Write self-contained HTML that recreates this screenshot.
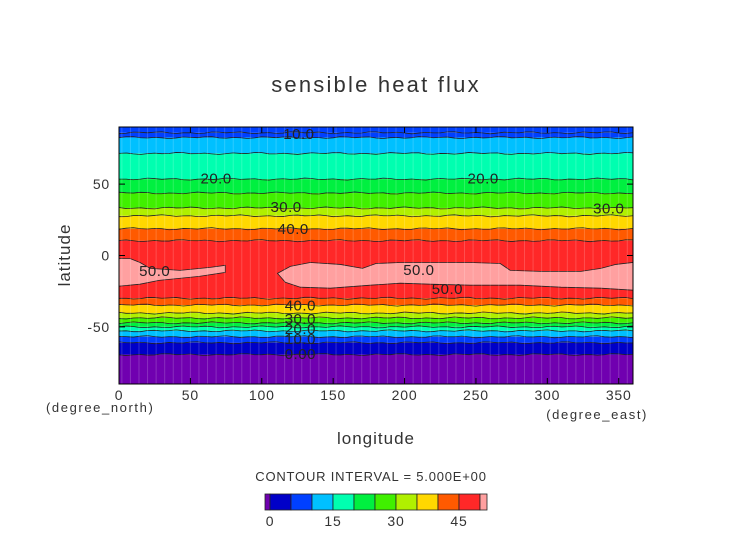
<!DOCTYPE html>
<html><head><meta charset="utf-8"><style>
body{margin:0;background:#fff}
svg text{font-family:"Liberation Sans",sans-serif;fill:#333}
</style></head><body>
<svg width="752" height="532" viewBox="0 0 752 532" xmlns="http://www.w3.org/2000/svg">
<text x="376" y="92" font-size="22" text-anchor="middle" letter-spacing="2.2">sensible heat flux</text>
<g id="plot"></g>
<g id="axes"></g>
<text x="70" y="255" font-size="17" text-anchor="middle" letter-spacing="1" transform="rotate(-90 70 255)">latitude</text>
<text x="376" y="444" font-size="17" text-anchor="middle" letter-spacing="1">longitude</text>
<text x="46" y="412" font-size="13" letter-spacing="1.6">(degree_north)</text>
<text x="648" y="419" font-size="13" text-anchor="end" letter-spacing="1.6">(degree_east)</text>
<text x="371" y="481" font-size="13" text-anchor="middle" letter-spacing="0.8">CONTOUR INTERVAL = 5.000E+00</text>
<g id="cbar"></g>
</svg>
<script>
// band boundaries (latitude, north to south) and the level band colour index below each boundary
const bandLats=[90,86,82.6,71.5,53.5,43.75,33.3,27.8,18.75,10.4,-29.9,-34.7,-40.3,-43.75,-47.2,-50,-52.8,-56.9,-61.1,-69.4,-90];
const bandLevels=[5,5,10,15,20,25,30,35,40,45,40,35,30,25,20,15,10,5,0,-5];
const levelColors=["#7000b0","#0000c8","#0040ff","#00c0ff","#00ffb0","#00f040","#40f000","#b0f000","#ffd800","#ff5a00","#ff2828","#ffa0a0"];
const levelValues=[-5,0,5,10,15,20,25,30,35,40,45,50];
const patchRightLon=[111,120,134,155,170.5,180,197,225,246,267,274,295,323.5,337.5,348,360,360,337.5,309.5,281,246,218,197,176,148,127,116.5];
const patchRightLat=[-12.5,-7.6,-4.9,-6.25,-9,-5.6,-4.9,-4.9,-4.9,-5.6,-10.4,-11.1,-11.1,-9,-6.25,-4.9,-24.3,-22.9,-22.2,-20.8,-20.8,-20.1,-19.4,-20.8,-22.9,-22.2,-18.75];
const patchLeftLon=[0,7.7,14.7,21.8,42.8,63.9,74.4,74.4,56.1,42.1,28,14.7,0];
const patchLeftLat=[-2.1,-2.1,-4.9,-9,-10.4,-8.3,-6.9,-11.8,-14.6,-16,-17.4,-20.1,-21.5];
const xTicks=[0,50,100,150,200,250,300,350];
const yTicks=[50,0,-50];
const contourLabels=["10.0","20.0","20.0","30.0","30.0","40.0","50.0","50.0","50.0","40.0","30.0","20.0","10.0","0.00"];
const labelLon=[126,68,255,117,343,122,25,210,230,127,127,127,127,127];
const labelLat=[85,54,54,34,33,18.5,-11,-10,-23.5,-35,-44.5,-51.5,-58.5,-69];
const cbarLabels=["0","15","30","45"];
const cbarLabelVals=[0,15,30,45];

const NS="http://www.w3.org/2000/svg";
const X0=119,X1=633,Y0=127,Y1=384;
const sx=l=>X0+(l/360)*(X1-X0);
const sy=l=>Y0+(90-l)/180*(Y1-Y0);
function mk(tag,attrs,parent){const e=document.createElementNS(NS,tag);for(const k in attrs)e.setAttribute(k,attrs[k]);parent.appendChild(e);return e;}
const colorOf=v=>levelColors[levelValues.indexOf(v)];
const plot=document.getElementById('plot');
for(let i=0;i<bandLevels.length;i++){
 const r=mk('rect',{x:X0,y:sy(bandLats[i]),width:X1-X0,height:sy(bandLats[i+1])-sy(bandLats[i]),fill:colorOf(bandLevels[i])},plot);
 
 
}
for(let i=1;i<bandLats.length-1;i++){
 let d='';
 for(let k=0;k<=72;k++){const lon=k*5;const w=Math.sin(k*1.7+i)*0.6+Math.sin(k*0.6+i*2)*0.5;d+=(k?'L':'M')+sx(lon)+' '+(sy(bandLats[i])+w);}
 const p=mk('path',{d:d,fill:'none',stroke:'#222','stroke-width':0.8},plot);
 
 
}
function patch(lons,lats,name){
 let d=lons.map((l,i)=>(i?'L':'M')+sx(l)+' '+sy(lats[i])).join('')+'Z';
 const p=mk('path',{d:d,fill:colorOf(50),stroke:'#222','stroke-width':0.8},plot);
 
 
}
patch(patchRightLon,patchRightLat,'patch-50-east');
patch(patchLeftLon,patchLeftLat,'patch-50-west');
for(let lon=2;lon<360;lon+=6){mk('line',{x1:sx(lon),x2:sx(lon),y1:Y0,y2:Y1,stroke:'#fff','stroke-opacity':0.18,'stroke-width':1},plot);}
contourLabels.forEach((t,i)=>{
 const e=mk('text',{x:sx(labelLon[i]),y:sy(labelLat[i])+5,'font-size':15,'text-anchor':'middle','letter-spacing':0.5},plot);
 e.textContent=t;e.style.fill='#222';
 
 
});
const ax=document.getElementById('axes');
mk('rect',{x:X0,y:Y0,width:X1-X0,height:Y1-Y0,fill:'none',stroke:'#000','stroke-width':1},ax);
xTicks.forEach(v=>{
 mk('line',{x1:sx(v),x2:sx(v),y1:Y1,y2:Y1-6,stroke:'#000'},ax);
 mk('line',{x1:sx(v),x2:sx(v),y1:Y0,y2:Y0+6,stroke:'#000'},ax);
 const t=mk('text',{x:sx(v),y:Y1+16,'font-size':14,'text-anchor':'middle','letter-spacing':0.8},ax);t.textContent=v;
 
 
});
yTicks.forEach(v=>{
 mk('line',{x1:X0,x2:X0+6,y1:sy(v),y2:sy(v),stroke:'#000'},ax);
 mk('line',{x1:X1,x2:X1-6,y1:sy(v),y2:sy(v),stroke:'#000'},ax);
 const t=mk('text',{x:X0-9,y:sy(v)+5,'font-size':14,'text-anchor':'end','letter-spacing':0.8},ax);t.textContent=v;
 
 
});
const cb=document.getElementById('cbar');
const CB0=265,CBW=21/5,CBY=494,CBH=16;
const cx=v=>270+(v-0)*CBW;
for(let i=0;i<levelValues.length;i++){
 const v=levelValues[i];
 const x1=i==0?CB0:cx(v), x2=i==levelValues.length-1?487:cx(v+5);
 const r=mk('rect',{x:x1,y:CBY,width:x2-x1,height:CBH,fill:levelColors[i],stroke:'#222','stroke-width':0.8},cb);
 
 
}
cbarLabels.forEach((t,i)=>{
 const e=mk('text',{x:cx(cbarLabelVals[i]),y:526,'font-size':14,'text-anchor':'middle','letter-spacing':0.8},cb);e.textContent=t;
 
 
});
</script>
</body></html>
